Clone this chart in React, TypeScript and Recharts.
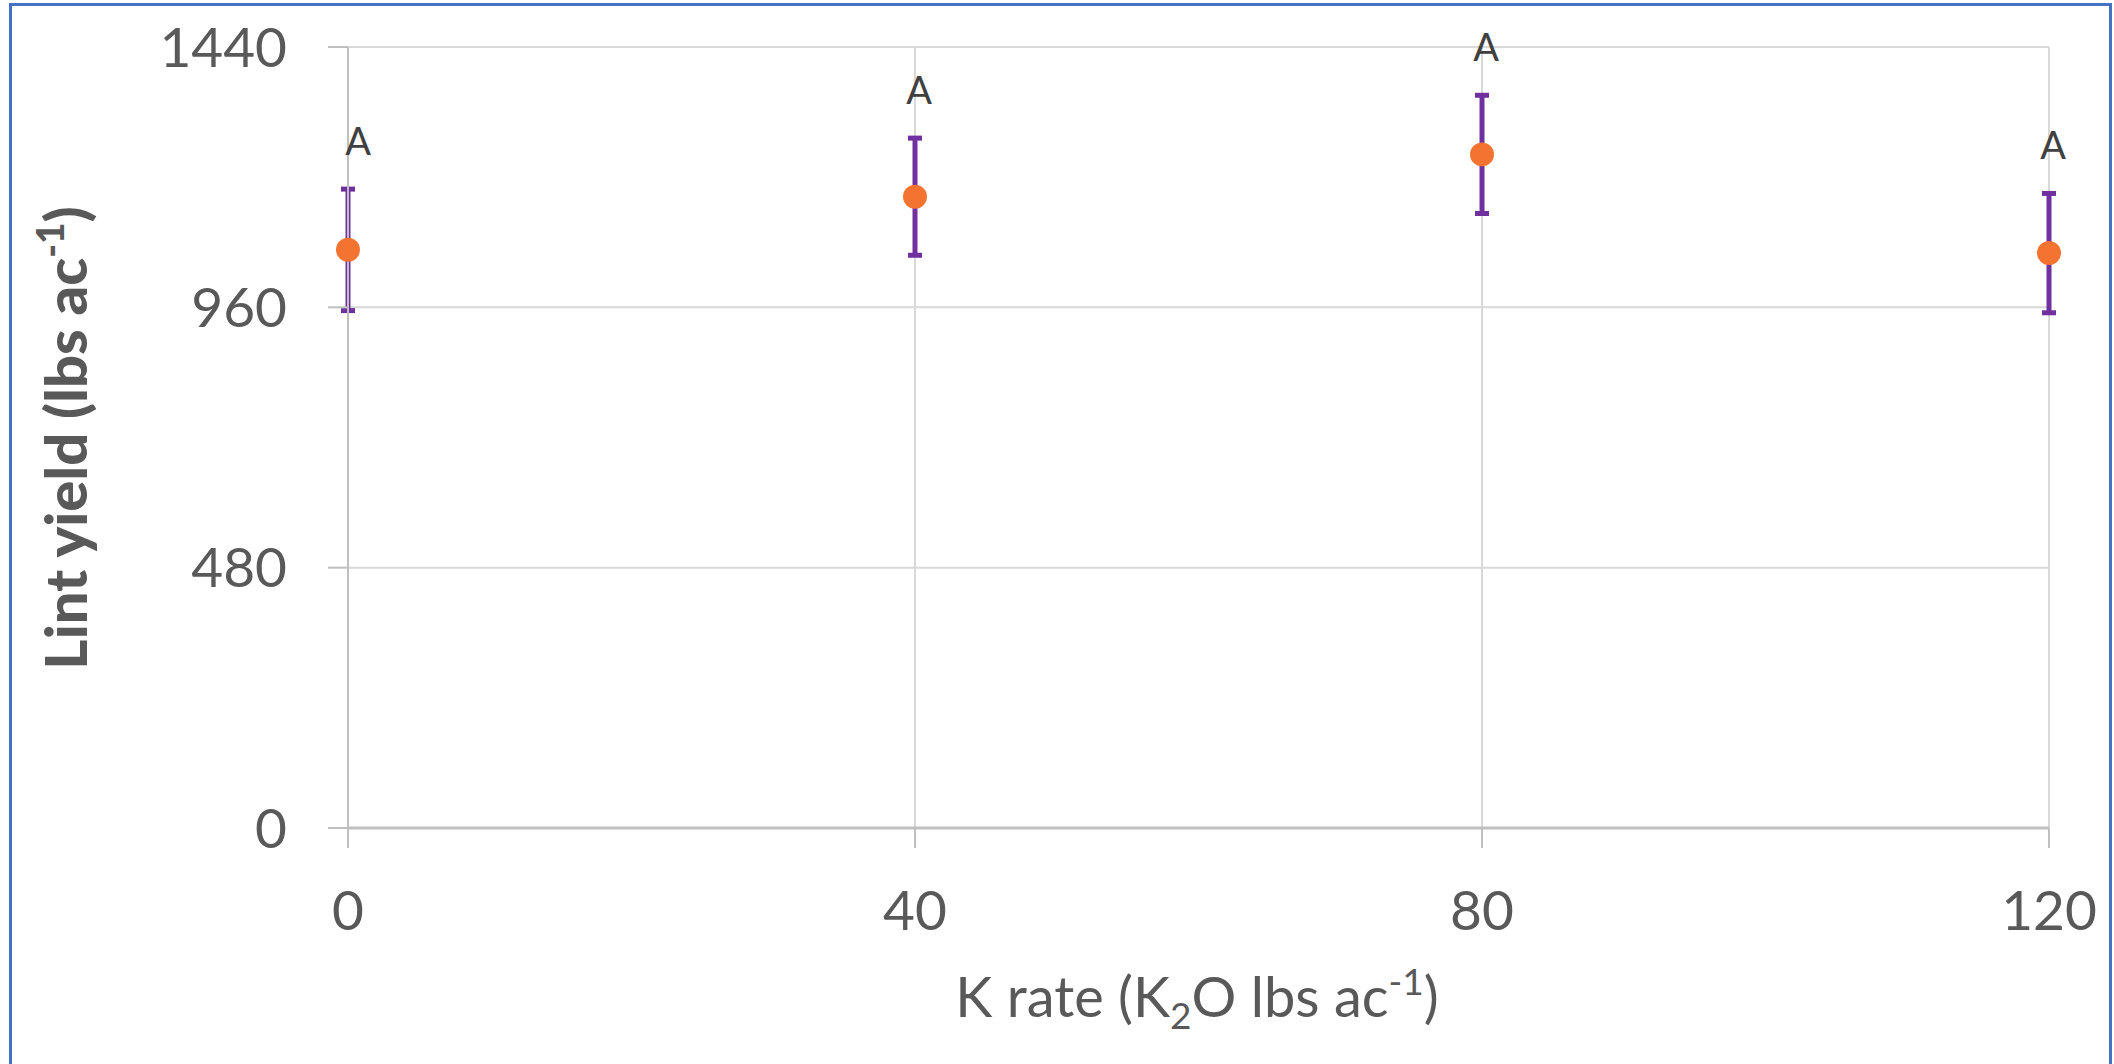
import React from 'react';
import { ScatterChart, Scatter, XAxis, YAxis, CartesianGrid, ErrorBar, Label } from 'recharts';

const kRates = [0, 40, 80, 120];
const lintYield = [1066, 1164, 1242, 1060];
const yieldError = [112, 108, 109, 110];
const letters = ['A', 'A', 'A', 'A'];
const xTicks = [0, 40, 80, 120];
const yTicks = [0, 480, 960, 1440];

const pointData = kRates.map((k, i) => ({ k, y: lintYield[i], err: yieldError[i] }));
const letterData = kRates.map((k, i) => ({ k, y: lintYield[i] + yieldError[i], letter: letters[i] }));

const FONT = 'Lato, "Open Sans", sans-serif';
const TICK_COLOR = '#595959';

const Dot = (props: any) => {
  const { cx, cy } = props;
  if (cx == null || cy == null) return null;
  return <circle cx={cx} cy={cy} r={12} fill="#F47330" />;
};

const NoDot = () => <g />;

const LetterShape = (props: any) => {
  const { cx, cy, payload, index } = props;
  if (cx == null || cy == null) return null;
  const dx = index === 0 ? 10 : 4;
  return (
    <text x={cx + dx} y={cy - 34} textAnchor="middle" fill="#404040" fontSize={38} fontFamily={FONT}>
      {payload.letter}
    </text>
  );
};

const YTitle = () => {
  const x = 87;
  const y = 438;
  return (
    <text
      x={x}
      y={y}
      transform={`rotate(-90 ${x} ${y})`}
      textAnchor="middle"
      fill={TICK_COLOR}
      fontSize={58}
      fontWeight="900"
      fontFamily={FONT}
    >
      <tspan>Lint yield (lbs ac</tspan>
      <tspan fontSize={37} dy={-23}>-1</tspan>
      <tspan dy={23}>)</tspan>
    </text>
  );
};

const XTitle = () => {
  const x = 1197;
  const y = 1017;
  return (
    <text x={x} y={y} textAnchor="middle" fill={TICK_COLOR} fontSize={56} fontFamily={FONT}>
      <tspan>K rate (K</tspan>
      <tspan fontSize={37} dy={12}>2</tspan>
      <tspan dy={-12}>O lbs ac</tspan>
      <tspan fontSize={37} dy={-22}>-1</tspan>
      <tspan dy={22}>)</tspan>
    </text>
  );
};

export default function App() {
  return (
    <div style={{ position: 'absolute', left: 0, top: 0, width: 2114, height: 1064, overflow: 'hidden', background: '#fff' }}>
      <div
        style={{
          position: 'absolute',
          left: 9,
          top: 3,
          width: 2103,
          height: 1100,
          border: '3px solid #4472C4',
          boxSizing: 'border-box',
        }}
      />
      <div style={{ position: 'absolute', left: 0, top: 0 }}>
        <ScatterChart width={2114} height={1064} margin={{ top: 47, right: 65, left: 0, bottom: 0 }}>
          <CartesianGrid stroke="#D9D9D9" strokeWidth={2} />
          <XAxis
            type="number"
            dataKey="k"
            domain={[0, 120]}
            ticks={xTicks}
            height={236}
            tickSize={20}
            tickMargin={43}
            axisLine={{ stroke: '#BFBFBF', strokeWidth: 3 }}
            tickLine={{ stroke: '#BFBFBF', strokeWidth: 2 }}
            tick={{ fill: TICK_COLOR, fontSize: 55, fontFamily: FONT }}
          >
            <Label content={<XTitle />} />
          </XAxis>
          <YAxis
            type="number"
            dataKey="y"
            domain={[0, 1440]}
            ticks={yTicks}
            width={348}
            tickSize={20}
            tickMargin={41}
            axisLine={{ stroke: '#BFBFBF', strokeWidth: 2 }}
            tickLine={{ stroke: '#BFBFBF', strokeWidth: 2 }}
            tick={{ fill: TICK_COLOR, fontSize: 55, fontFamily: FONT }}
          >
            <Label content={<YTitle />} />
          </YAxis>
          <Scatter data={pointData} shape={<NoDot />} isAnimationActive={false}>
            <ErrorBar dataKey="err" direction="y" width={7} strokeWidth={5} stroke="#7030A0" isAnimationActive={false} />
          </Scatter>
          <Scatter data={pointData} shape={<Dot />} isAnimationActive={false} />
          <Scatter data={letterData} shape={<LetterShape />} isAnimationActive={false} />
        </ScatterChart>
      </div>
    </div>
  );
}
